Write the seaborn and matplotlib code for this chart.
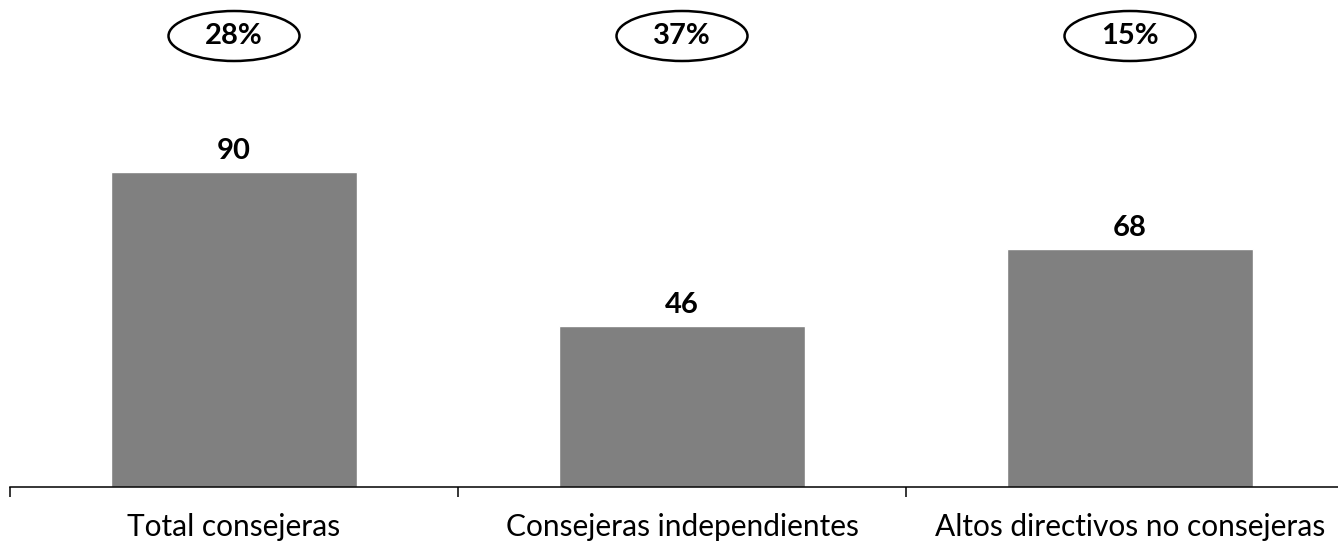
import matplotlib
matplotlib.use("Agg")
import matplotlib.pyplot as plt
import matplotlib.transforms as mtransforms
from matplotlib.patches import Ellipse
import seaborn as sns

# data
categories = ["Total consejeras", "Consejeras independientes", "Altos directivos no consejeras"]
values = [90, 46, 68]
shares = ["28%", "37%", "15%"]

sns.set_style("white")
plt.rcParams["font.family"] = ["Lato", "DejaVu Sans"]

fig = plt.figure(figsize=(13.38, 5.44), dpi=100)
# axes spans from x=10px, bottom at 487px; slightly wider than the figure on the right
ax = fig.add_axes([10 / 1338, 57 / 544, 1344 / 1338, 487 / 544])

sns.barplot(x=categories, y=values, color="#808080", width=0.55, saturation=1, ax=ax)

ax.set_xlim(-0.5, 2.5)
ax.set_ylim(0, 487 / 3.5)

# value labels on top of bars
ax.bar_label(ax.containers[0], labels=[str(v) for v in values], padding=6,
             fontsize=21, fontweight="bold", color="black")

# spines / ticks
for side in ["top", "right", "left"]:
    ax.spines[side].set_visible(False)
ax.spines["bottom"].set_color("black")
ax.spines["bottom"].set_linewidth(1.1)
ax.set_yticks([])
ax.set_xticks([-0.5, 0.5, 1.5], minor=True)
ax.tick_params(axis="x", which="minor", bottom=True, direction="out",
               length=7.5, width=1.1, color="black")
ax.tick_params(axis="x", which="major", bottom=False, length=0, pad=19,
               labelsize=21.5, labelcolor="black")
ax.set_xlabel("")
ax.set_ylabel("")

# percentage ellipses above each bar
trans = mtransforms.blended_transform_factory(ax.transData, ax.transAxes)
for i, s in enumerate(shares):
    ax.add_patch(Ellipse((i, 1 - 36 / 487), width=131 / 448, height=50 / 487,
                         transform=trans, fill=False, edgecolor="black",
                         linewidth=1.8, clip_on=False))
    ax.text(i, 1 - 36 / 487, s, transform=trans, ha="center", va="center",
            fontsize=21, fontweight="bold", color="black")

fig.savefig("out.png", dpi=100)
